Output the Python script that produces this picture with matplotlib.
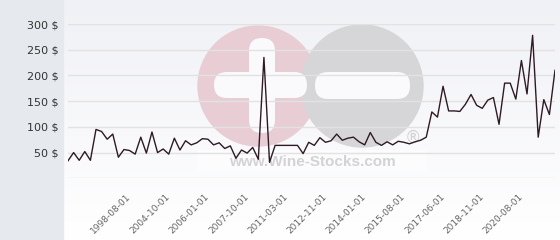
import matplotlib.pyplot as plt
import numpy as np
from matplotlib.patches import Rectangle, Circle, FancyBboxPatch
from matplotlib.colors import LinearSegmentedColormap
from matplotlib.transforms import ScaledTranslation

# prix (88 points)
prices = [34, 50, 35, 52, 35, 95, 91, 76, 86, 41,
          56, 54, 47, 80, 49, 90, 50, 57, 47, 78,
          55, 73, 65, 69, 77, 76, 65, 69, 58, 63,
          39, 55, 49, 60, 37, 235, 31, 64, 64, 64,
          64, 64, 48, 70, 64, 79, 70, 73, 86, 74,
          78, 80, 71, 65, 89, 70, 64, 71, 65, 72,
          70, 67, 71, 74, 80, 129, 119, 179, 131, 131,
          130, 144, 163, 142, 136, 152, 157, 105, 185, 185,
          154, 229, 164, 278, 80, 153, 124, 210]
tick_labels = ['1998-08-01', '2004-10-01', '2006-01-01', '2007-10-01',
               '2011-03-01', '2012-11-01', '2014-01-01', '2015-08-01',
               '2017-06-01', '2018-11-01', '2020-08-01']
y_ticks = [0, 50, 100, 150, 200, 250, 300]

fig = plt.figure(figsize=(5.6, 2.4), dpi=100)

# fond + filigrane, en pixels
bg = fig.add_axes([0, 0, 1, 1])
grad = np.linspace(0, 1, 240)[:, None]
cmap = LinearSegmentedColormap.from_list('g', ['#f0f1f6', '#ffffff'])
bg.imshow(grad, extent=[63, 560, 240, 0], cmap=cmap, aspect='auto')
bg.add_patch(Rectangle((0, 0), 63, 240, color='#e6eaee'))
bg.add_patch(Circle((258, 86), 60, color='#e8cdd5'))
bg.add_patch(Circle((362, 86), 61, color='#d6d6d8'))
for (x0, y0, w, h) in [(249, 38, 26, 95), (214, 72, 93, 26), (315, 72, 95, 27)]:
    bg.add_patch(FancyBboxPatch((x0, y0), w, h, boxstyle='round,pad=0,rounding_size=13',
                                color='#fafafc', lw=0))
bg.add_patch(Rectangle((197, 150), 230, 21, color='white', alpha=0.5, lw=0))
bg.text(312, 162, 'www.Wine-Stocks.com', ha='center', va='center', fontsize=11,
        fontweight='bold', color='#d3d3d5', family='Liberation Sans')
bg.text(413, 138, '®', ha='center', va='center', fontsize=12, color='#d3d3d5',
        family='DejaVu Sans')
bg.set_xlim(0, 560)
bg.set_ylim(240, 0)
bg.axis('off')

ax = fig.add_axes([68 / 560, (240 - 178.3) / 240, 487 / 560, 154.3 / 240])
ax.set_facecolor('none')
x = np.arange(len(prices))
ax.plot(x, prices, color='#2e1a24', lw=1, zorder=3)
ax.set_xlim(0, len(prices) - 1)
ax.set_ylim(0, 300)
for s in ax.spines.values():
    s.set_visible(False)

ax.set_yticks(y_ticks)
ax.set_yticklabels([''] + [f'{v} $' for v in y_ticks[1:]], fontsize=8, color='#333333')
ax.yaxis.grid(True, color='#e2e2e2', lw=1)
ax.tick_params(axis='y', length=0, pad=6.5)

ax.set_xticks(range(11, len(prices), 7))
ax.set_xticklabels(tick_labels, rotation=45, ha='right', va='top',
                   rotation_mode='anchor', fontsize=6.5, color='#666666')
ax.tick_params(axis='x', length=0, pad=10)
off = ScaledTranslation(-3 / 100, 0, fig.dpi_scale_trans)
for lab in ax.get_xticklabels():
    lab.set_transform(lab.get_transform() + off)

fig.savefig('out.png', dpi=100)
